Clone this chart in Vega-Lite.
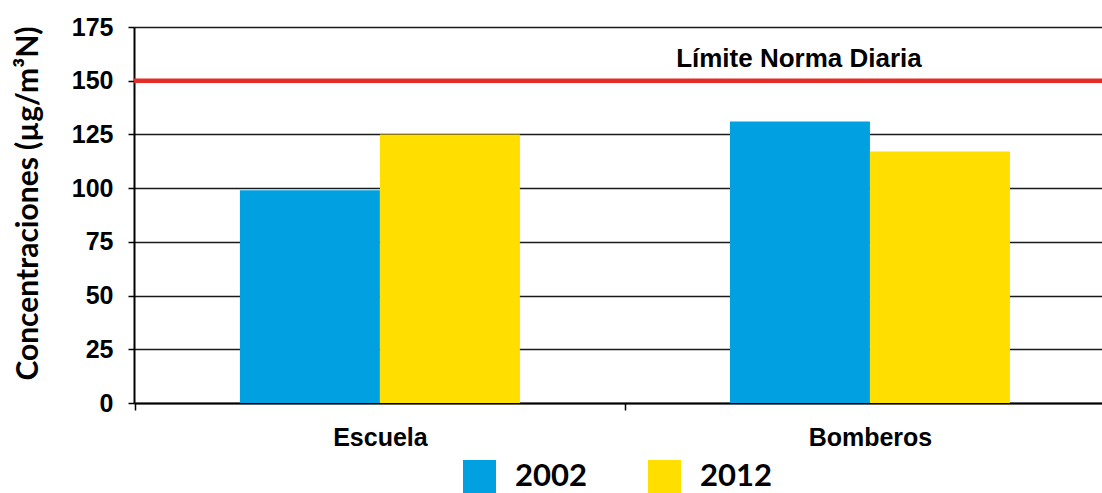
{
  "$schema": "https://vega.github.io/schema/vega-lite/v6.json",
  "width": 968,
  "height": 376,
  "autosize": {"type": "none"},
  "padding": {"left": 134, "top": 27, "right": 0, "bottom": 90},
  "background": "white",
  "config": {"view": {"stroke": null}, "font": "Liberation Sans"},
  "datasets": {
    "barras": [
      {"sitio": "Escuela", "anio": "2002", "valor": 99},
      {"sitio": "Escuela", "anio": "2012", "valor": 125},
      {"sitio": "Bomberos", "anio": "2002", "valor": 131},
      {"sitio": "Bomberos", "anio": "2012", "valor": 117}
    ],
    "limite": [
      {"sitio": "Bomberos", "limite": 150, "etiqueta": "Límite Norma Diaria"}
    ]
  },
  "layer": [
    {
      "data": {"name": "barras"},
      "mark": {"type": "bar"},
      "encoding": {
        "x": {
          "field": "sitio",
          "type": "nominal",
          "scale": {"domain": ["Escuela", "Bomberos"], "paddingInner": 0.4286, "paddingOuter": 0.202, "align": 0.535},
          "axis": {
            "title": null,
            "labelAngle": 0,
            "labelFont": "Liberation Sans",
            "labelFontWeight": "bold",
            "labelFontSize": 25,
            "labelColor": "black",
            "labelPadding": 15,
            "labelOffset": 245,
            "tickOffset": -245,
            "tickSize": 7,
            "tickColor": "black",
            "tickWidth": 1.5,
            "domainColor": "black",
            "domainWidth": 2,
            "grid": false
          }
        },
        "xOffset": {"field": "anio", "type": "nominal", "scale": {"paddingInner": 0}},
        "y": {
          "field": "valor",
          "type": "quantitative",
          "scale": {"domain": [0, 175], "nice": false},
          "axis": {
            "values": [0, 25, 50, 75, 100, 125, 150, 175],
            "title": "Concentraciones (µg/m³N)",
            "titleFont": "Lato",
            "titleFontSize": 30,
            "titleFontWeight": "bold",
            "titleColor": "black",
            "titleX": -106,
            "titleY": 176,
            "titleAngle": 270,
            "titleBaseline": "middle",
            "titleAlign": "center",
            "labelFont": "Liberation Sans",
            "labelFontWeight": "bold",
            "labelFontSize": 25,
            "labelColor": "black",
            "labelPadding": 15,
            "tickSize": 6,
            "tickColor": "black",
            "tickWidth": 1.5,
            "domainColor": "black",
            "domainWidth": 2,
            "grid": true,
            "gridColor": "#1a1a1a",
            "gridWidth": 1.5,
            "gridOpacity": 1
          }
        },
        "color": {
          "field": "anio",
          "type": "nominal",
          "scale": {"domain": ["2002", "2012"], "range": ["#00a0e1", "#ffde00"]},
          "legend": {
            "title": null,
            "orient": "none",
            "legendX": 329,
            "legendY": 433,
            "direction": "horizontal",
            "columns": 2,
            "padding": 0,
            "symbolType": "square",
            "symbolSize": 1089,
            "symbolStrokeWidth": 0,
            "symbolOpacity": 1,
            "labelFont": "Lato",
            "labelFontSize": 31,
            "labelFontWeight": "bold",
            "labelColor": "black",
            "labelOffset": 19,
            "columnPadding": 61,
            "labelLimit": 200
          }
        }
      }
    },
    {
      "data": {"name": "limite"},
      "mark": {"type": "rule", "color": "#e52b25", "strokeWidth": 4.5},
      "encoding": {"y": {"field": "limite", "type": "quantitative"}}
    },
    {
      "data": {"name": "limite"},
      "mark": {
        "type": "text",
        "font": "Liberation Sans",
        "fontWeight": "bold",
        "fontSize": 26,
        "color": "black",
        "align": "center",
        "baseline": "alphabetic",
        "dx": -71,
        "dy": -14
      },
      "encoding": {
        "x": {"field": "sitio", "type": "nominal"},
        "y": {"field": "limite", "type": "quantitative"},
        "text": {"field": "etiqueta"}
      }
    }
  ]
}
